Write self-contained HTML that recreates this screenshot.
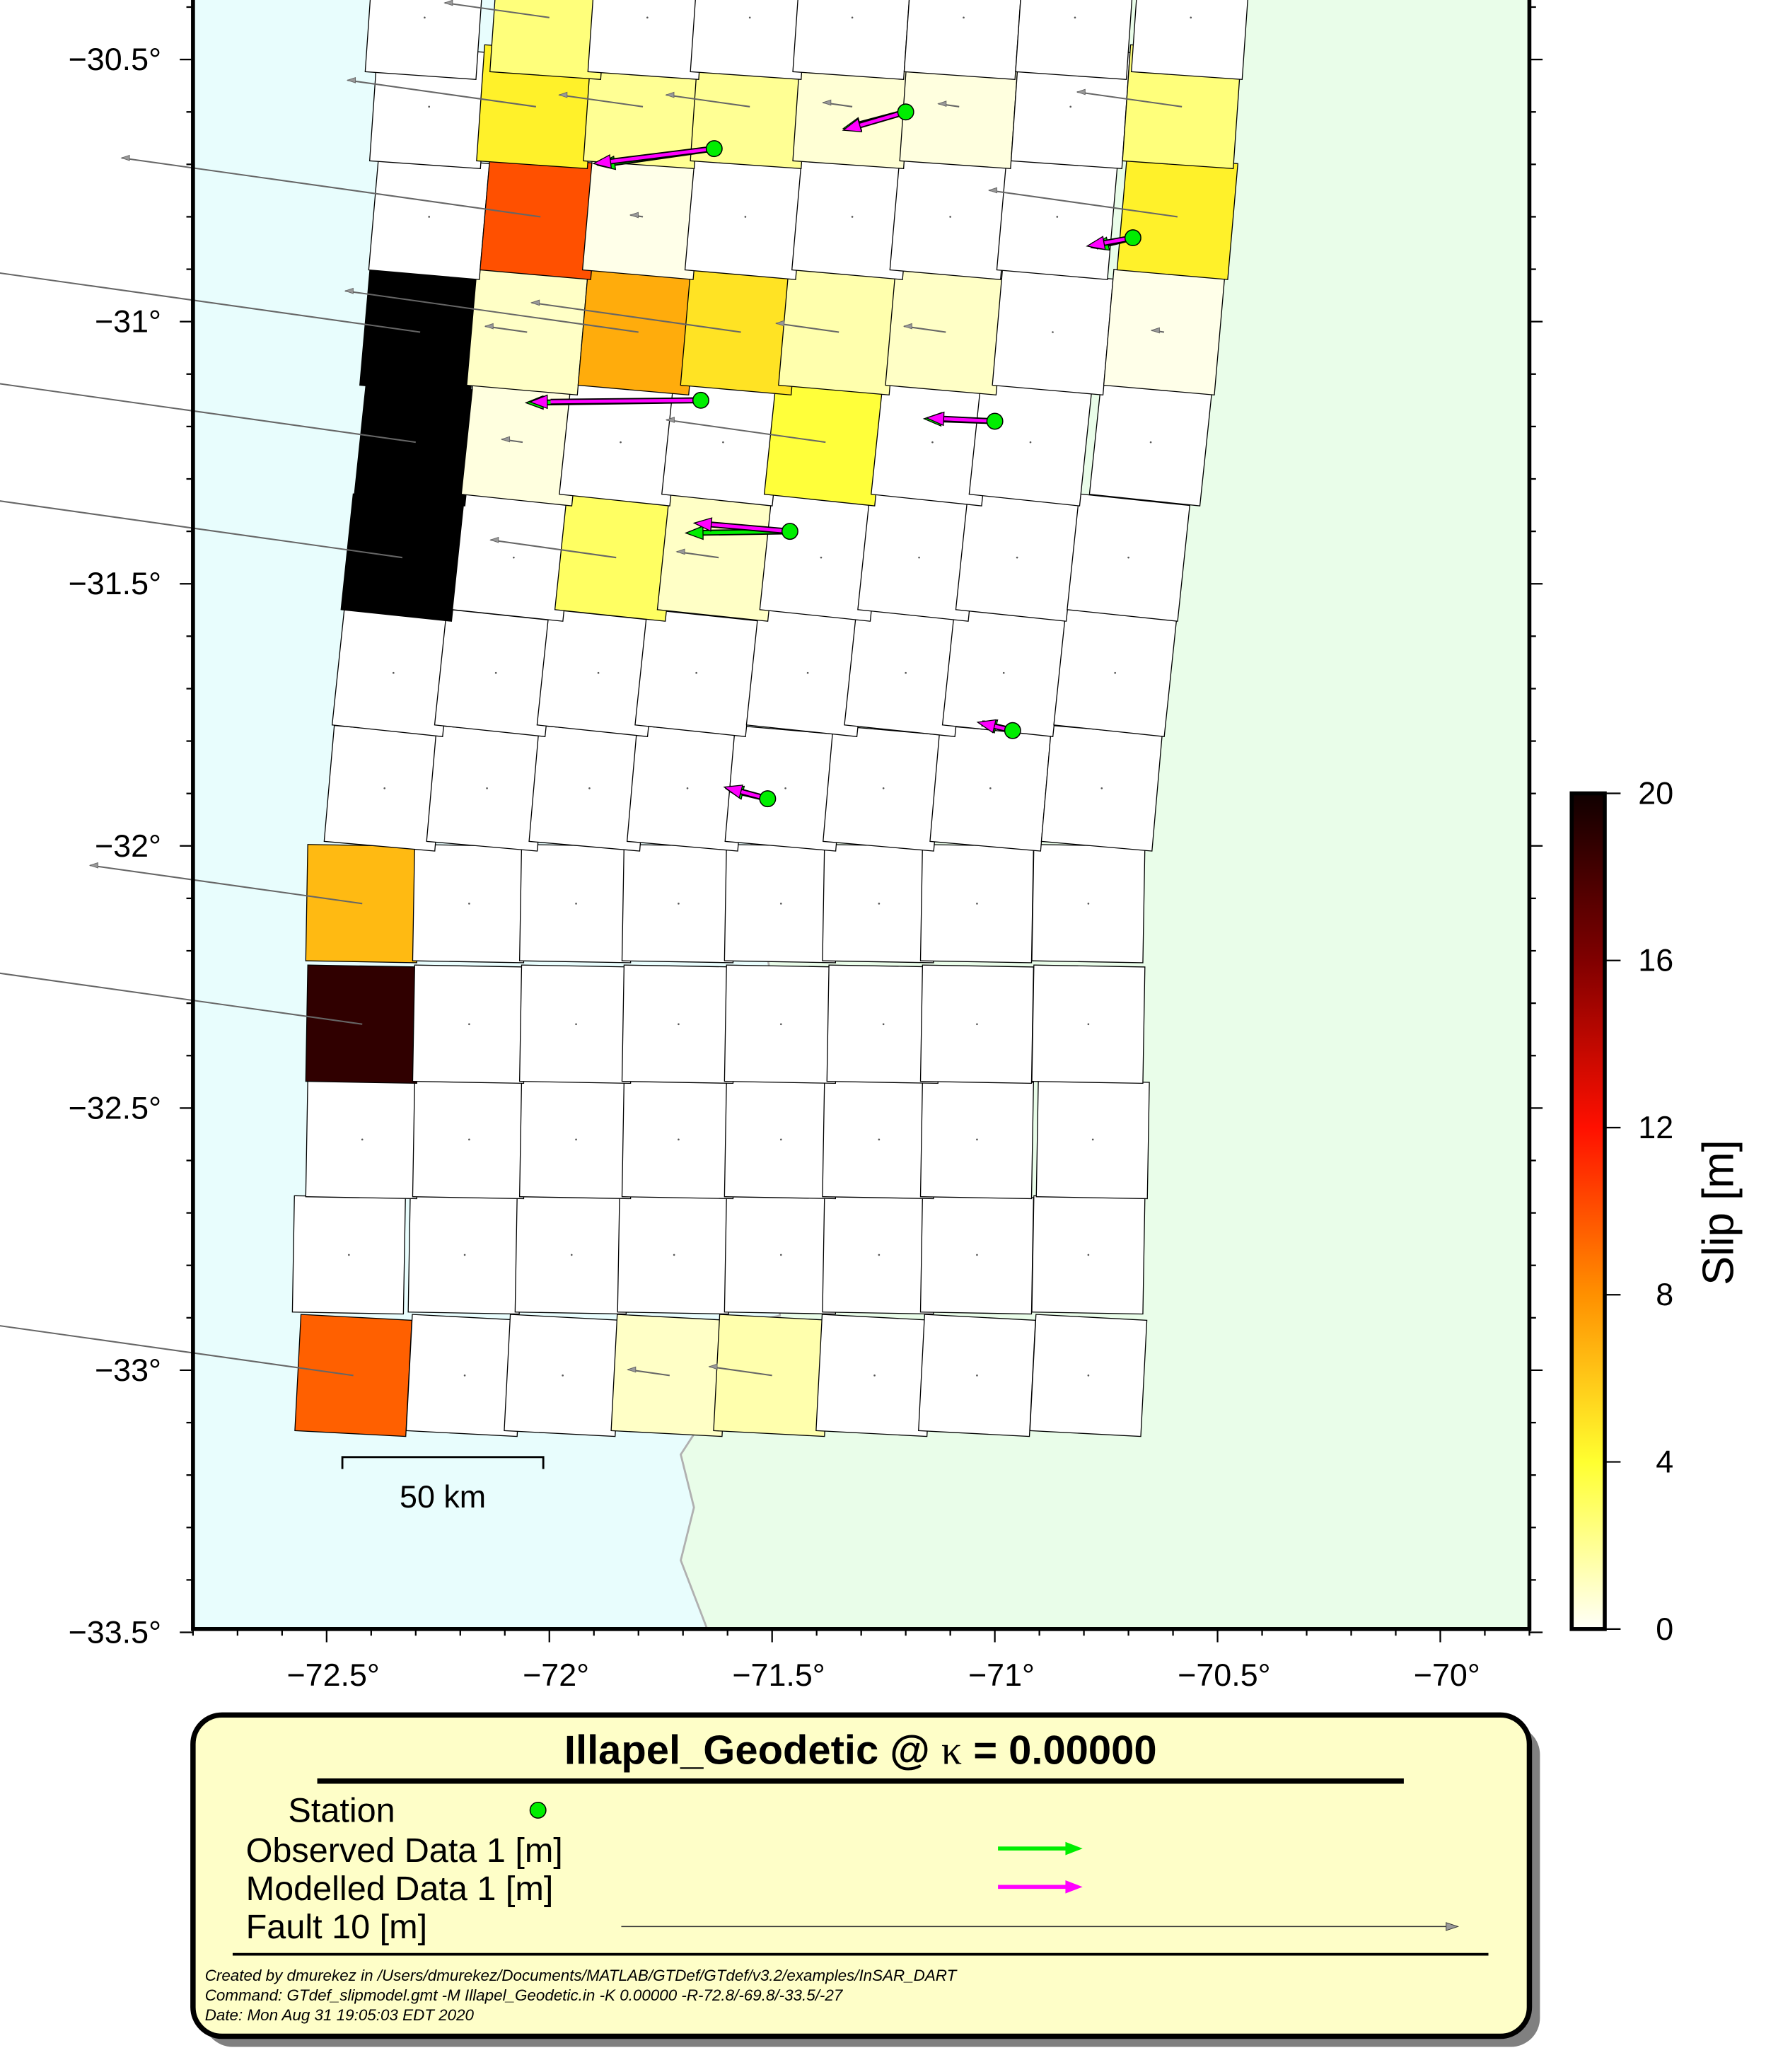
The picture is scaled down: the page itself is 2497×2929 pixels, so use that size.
<!DOCTYPE html>
<html><head><meta charset="utf-8"><style>
html,body{margin:0;padding:0;background:#fff}
svg{display:block}
text{font-family:"Liberation Sans",sans-serif}
</style></head><body>
<svg id="chart" xmlns="http://www.w3.org/2000/svg" width="2497" height="2929" viewBox="0 0 1336 1567" preserveAspectRatio="none">
<defs>
<linearGradient id="cbg" x1="0" y1="1" x2="0" y2="0">
<stop offset="0" stop-color="#fffff8"/><stop offset="0.2" stop-color="#ffff30"/><stop offset="0.4" stop-color="#ff9000"/><stop offset="0.6" stop-color="#ff1000"/><stop offset="0.8" stop-color="#800000"/><stop offset="1" stop-color="#100000"/>
</linearGradient>
<clipPath id="plotclip"><rect x="0" y="0" width="1157" height="1232"/></clipPath>
</defs>
<g id="map"></g>
<g id="axes"></g>
<g id="cbar"></g>
<g id="legend">
<rect x="154" y="1305" width="1011" height="243" rx="22" fill="#808080"/>
<rect x="146" y="1297" width="1011" height="243" rx="22" fill="#fefec8" stroke="#000" stroke-width="4"/>
<text x="651" y="1334" text-anchor="middle" font-size="31" font-weight="bold">Illapel_Geodetic @ <tspan font-family="Liberation Serif" font-weight="normal">κ</tspan> = 0.00000</text>
<line x1="240" y1="1347" x2="1062" y2="1347" stroke="#000" stroke-width="4"/>
<text x="218" y="1378" font-size="26">Station</text>
<circle cx="407" cy="1369" r="6" fill="#00ee00" stroke="#000" stroke-width="0.8"/>
<text x="186" y="1408" font-size="26">Observed Data 1 [m]</text>
<line x1="755" y1="1398" x2="808" y2="1398" stroke="#00ee00" stroke-width="3"/>
<polygon points="806,1393 819,1398 806,1403" fill="#00ee00"/>
<text x="186" y="1437" font-size="26">Modelled Data 1 [m]</text>
<line x1="755" y1="1427" x2="808" y2="1427" stroke="#ff00ff" stroke-width="3"/>
<polygon points="806,1422 819,1427 806,1432" fill="#ff00ff"/>
<text x="186" y="1466" font-size="26">Fault 10 [m]</text>
<line x1="470" y1="1457" x2="1096" y2="1457" stroke="#333" stroke-width="0.8"/>
<polygon points="1094,1454 1103,1457 1094,1460" fill="#999" stroke="#333" stroke-width="0.5"/>
<line x1="176" y1="1478" x2="1126" y2="1478" stroke="#000" stroke-width="2"/>
<text x="155" y="1498" font-size="12" font-style="italic">Created by dmurekez in /Users/dmurekez/Documents/MATLAB/GTDef/GTdef/v3.2/examples/InSAR_DART</text>
<text x="155" y="1513" font-size="12" font-style="italic">Command: GTdef_slipmodel.gmt -M Illapel_Geodetic.in -K 0.00000 -R-72.8/-69.8/-33.5/-27</text>
<text x="155" y="1528" font-size="12" font-style="italic">Date: Mon Aug 31 19:05:03 EDT 2020</text>
</g>
</svg>
<script>
// ---- data ----
const rowLats = [-33.01,-32.78,-32.56,-32.34,-32.11,-31.89,-31.67,-31.45,-31.23,-31.02,-30.80,-30.59,-30.42];
const rowLons = [
 [-72.44,-72.19,-71.97,-71.73,-71.50,-71.27,-71.04,-70.79],
 [-72.45,-72.19,-71.95,-71.72,-71.48,-71.26,-71.04,-70.79],
 [-72.42,-72.18,-71.94,-71.71,-71.48,-71.26,-71.04,-70.78],
 [-72.42,-72.18,-71.94,-71.71,-71.48,-71.25,-71.04,-70.79],
 [-72.42,-72.18,-71.94,-71.71,-71.48,-71.26,-71.04,-70.79],
 [-72.37,-72.14,-71.91,-71.69,-71.47,-71.25,-71.01,-70.76],
 [-72.35,-72.12,-71.89,-71.67,-71.42,-71.20,-70.98,-70.73],
 [-72.33,-72.08,-71.85,-71.62,-71.39,-71.17,-70.95,-70.70],
 [-72.30,-72.06,-71.84,-71.61,-71.38,-71.14,-70.92,-70.65],
 [-72.29,-72.05,-71.80,-71.57,-71.35,-71.11,-70.87,-70.62],
 [-72.27,-72.02,-71.79,-71.56,-71.32,-71.10,-70.86,-70.59],
 [-72.27,-72.03,-71.79,-71.55,-71.32,-71.08,-70.83,-70.58],
 [-72.28,-72.00,-71.78,-71.55,-71.32,-71.07,-70.82,-70.56]];
const rowSlips = [
 [9.5,0,0,1,1.5,0,0,0],
 [0,0,0,0,0,0,0,0],
 [0,0,0,0,0,0,0,0],
 [18.5,0,0,0,0,0,0,0],
 [6.5,0,0,0,0,0,0,0],
 [0,0,0,0,0,0,0,0],
 [0,0,0,0,0,0,0,0],
 [20,0,3,1,0,0,0,0],
 [20,0.5,0,0,3.8,0,0,0],
 [20,1,7,5,1.5,1,0,0.3],
 [0,10,0.3,0,0,0,0,4.5],
 [0,4.5,2,2,0.7,0.5,0,2.5],
 [0,2.5,0,0,0,0,0,0]];
const stationLon = [-71.20,-71.63,-70.69,-71.66,-71.00,-71.46,-70.96,-71.51];
const stationLat = [-30.60,-30.67,-30.84,-31.15,-31.19,-31.40,-31.78,-31.91];
const obsEast  = [-0.75,-1.40,-0.50,-2.10,-0.85,-1.25,-0.40,-0.50];
const obsNorth = [-0.20,-0.20,-0.12,-0.03,0.03,-0.02,0.10,0.12];
const modEast  = [-0.75,-1.45,-0.55,-2.05,-0.82,-1.15,-0.42,-0.52];
const modNorth = [-0.22,-0.18,-0.10,-0.02,0.04,0.10,0.10,0.14];
const yTicks = [-33.5,-33,-32.5,-32,-31.5,-31,-30.5];
const xTicks = [-72.5,-72,-71.5,-71,-70.5,-70];
const cbTicks = [0,4,8,12,16,20];
// ---- geometry ----
const rowTilt = [3,1,1,1,1,5,6,6,6,5,5,4,4];
const X0=146,X1=1157,YB=1232;
function xs(lon){return X0+(lon+72.8)*337;}
function ys(lat){return 45-(lat+30.5)*396.5;}
const SN="http://www.w3.org/2000/svg";
function mk(tag,attrs,parent){const e=document.createElementNS(SN,tag);for(const k in attrs)e.setAttribute(k,attrs[k]);parent.appendChild(e);return e;}
const stops=[[0,[255,255,248]],[4,[255,255,48]],[8,[255,144,0]],[12,[255,16,0]],[16,[128,0,0]],[20,[0,0,0]]];
function slipColor(s){if(s<=0)return "#ffffff";for(let i=1;i<stops.length;i++){if(s<=stops[i][0]){const a=stops[i-1],b=stops[i];const t=(s-a[0])/(b[0]-a[0]);const c=a[1].map((v,j)=>Math.round(v+(b[1][j]-v)*t));return `rgb(${c})`;}}return "rgb(0,0,0)";}
const map=document.getElementById('map');
const bg=mk('g',{'clip-path':'url(#plotclip)'},map);


const ocean=mk('rect',{x:X0,y:0,width:X1-X0,height:YB,fill:'#e8fdfd'},bg);


const coast=[[520,0],[515,40],[518,80],[512,120],[520,170],[512,230],[522,260],[520,300],[528,330],[540,360],[548,400],[565,440],[568,480],[562,520],[575,560],[570,620],[565,680],[580,720],[590,780],[595,830],[598,860],[590,900],[585,940],[590,995],[565,1000],[555,1020],[550,1060],[528,1080],[515,1100],[525,1140],[515,1180],[535,1232]];
const land=mk('polygon',{points:coast.map(p=>p.join(',')).join(' ')+` ${X1},${YB} ${X1},0`,fill:'#e9fde9'},bg);


const coastLine=mk('polyline',{points:coast.map(p=>p.join(',')).join(' '),fill:'none',stroke:'#b0b0b0','stroke-width':1.5},bg);


// patches
const pg=mk('g',{},map);


const arrows=[];
rowLats.forEach((lat,r)=>{rowLons[r].forEach((lon,c)=>{
 const cx=xs(lon),cy=ys(lat),s=rowSlips[r][c];
 const p=mk('rect',{x:cx-42,y:cy-44,width:84,height:88,fill:slipColor(s),stroke:'#000','stroke-width':0.7,transform:`rotate(${rowTilt[r]} ${cx} ${cy})`},pg);
 
 
 if(s>0)arrows.push([cx,cy,s]);
 else{const d=mk('circle',{cx:cx,cy:cy,r:0.7,fill:'#555'},pg);
 
 }
});});
const sg=mk('g',{},map);


arrows.forEach(a=>{const L=a[2]*32,ang=8*Math.PI/180;const ex=a[0]-L*Math.cos(ang),ey=a[1]-L*Math.sin(ang);
 const l=mk('line',{x1:a[0],y1:a[1],x2:ex,y2:ey,stroke:'#666','stroke-width':1.1},sg);
 
 
 const h=mk('polygon',{points:`${ex},${ey} ${ex+6},${ey-2} ${ex+6},${ey+2}`,fill:'#999',stroke:'#666','stroke-width':0.5},sg);
 
 });
// stations
const stg=mk('g',{},map);


function vec(x,y,e,n,col,name){const ex=x+e*63,ey=y-n*63;
 const l=mk('line',{x1:x,y1:y,x2:ex+(x-ex)*0.12,y2:ey+(y-ey)*0.12,stroke:'#000','stroke-width':4.5},stg);
 
 
 const l2=mk('line',{x1:x,y1:y,x2:ex+(x-ex)*0.12,y2:ey+(y-ey)*0.12,stroke:col,'stroke-width':2.5},stg);
 
 
 const len=Math.hypot(ex-x,ey-y)||1,ux=(x-ex)/len,uy=(y-ey)/len;
 const bx=ex+ux*13,by=ey+uy*13;
 const h=mk('polygon',{points:`${ex},${ey} ${bx-uy*5},${by+ux*5} ${bx+uy*5},${by-ux*5}`,fill:col,stroke:'#000','stroke-width':0.7},stg);
 
 }
stationLon.forEach((lon,i)=>{const x=xs(lon),y=ys(stationLat[i]);
 vec(x,y,obsEast[i],obsNorth[i],'#00ee00','observed-vector');
 vec(x,y,modEast[i],modNorth[i],'#ff00ff','modelled-vector');
 const c=mk('circle',{cx:x,cy:y,r:6,fill:'#00ee00',stroke:'#000','stroke-width':0.8},stg);
 
 });
// scale bar
const sb=mk('g',{},map);


mk('polyline',{points:'259,1111 259,1102 411,1102 411,1111',fill:'none',stroke:'#000','stroke-width':1.5},sb);
const sbt=mk('text',{x:335,y:1140,'text-anchor':'middle','font-size':24},sb);
sbt.textContent='50 km';


// axes
const ax=document.getElementById('axes');
const fr=mk('path',{d:`M${X0},0 V${YB} H${X1} V0`,fill:'none',stroke:'#000','stroke-width':3},ax);


for(let v=-33.5;v<=-30.35;v+=0.1){const y=ys(v);const major=Math.abs(v*2-Math.round(v*2))<1e-6;const L=major?10:5;
 mk('line',{x1:X0-L,y1:y,x2:X0,y2:y,stroke:'#000','stroke-width':1.2},ax);
 mk('line',{x1:X1,y1:y,x2:X1+L,y2:y,stroke:'#000','stroke-width':1.2},ax);}
for(let v=-72.8;v<=-69.79;v+=0.1){const x=xs(v);const major=Math.abs(v*2-Math.round(v*2))<1e-6;const L=major?10:5;
 mk('line',{x1:x,y1:YB,x2:x,y2:YB+L,stroke:'#000','stroke-width':1.2},ax);}
yTicks.forEach(v=>{const t=mk('text',{x:122,y:ys(v)+8,'text-anchor':'end','font-size':24},ax);
 t.textContent=String(v).replace('-','\u2212')+'\u00b0';
 
 });
xTicks.forEach(v=>{const t=mk('text',{x:xs(v)+5,y:1275,'text-anchor':'middle','font-size':24},ax);
 t.textContent=String(v).replace('-','\u2212')+'\u00b0';
 
 });
// colorbar
const cb=document.getElementById('cbar');
const CB0=1232,CB1=600;
const cbr=mk('rect',{x:1189,y:CB1,width:25,height:CB0-CB1,fill:'url(#cbg)',stroke:'#000','stroke-width':3},cb);


cbTicks.forEach(v=>{const y=CB0-(v/20)*(CB0-CB1);
 mk('line',{x1:1214,y1:y,x2:1226,y2:y,stroke:'#000','stroke-width':1.2},cb);
 const t=mk('text',{x:1266,y:y+8,'text-anchor':'end','font-size':24},cb);
 t.textContent=v;
 
 });
const cbt=mk('text',{x:1311,y:917,'text-anchor':'middle','font-size':33,transform:'rotate(-90 1311 917)'},cb);
cbt.textContent='Slip [m]';


</script>
</body></html>
